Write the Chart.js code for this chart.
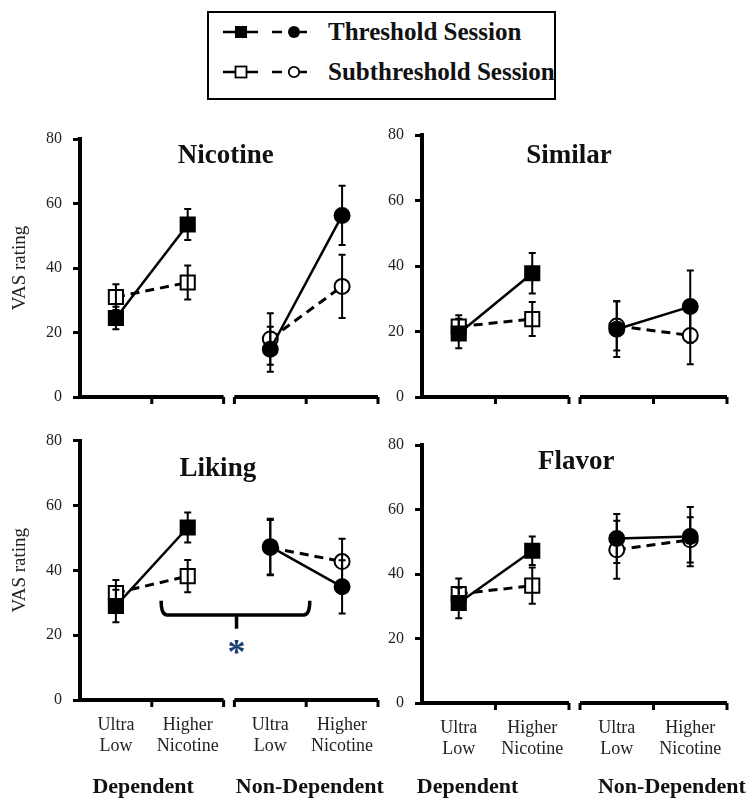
<!DOCTYPE html>
<html>
<head>
<meta charset="utf-8">
<script src="https://cdn.jsdelivr.net/npm/chart.js@4.4.1/dist/chart.umd.min.js"></script>
<style>
  body { margin: 0; background: #fff; }
  #wrap { position: relative; width: 752px; height: 812px; overflow: hidden; font-family: 'Liberation Serif', 'Times New Roman', serif; }
  canvas { position: absolute; }
  #legend { position: absolute; left: 207px; top: 11px; width: 345px; height: 85px; border: 2px solid #000; }
  .row { position: absolute; left: 14px; height: 30px; display: flex; align-items: center; }
  .row span { font-weight: bold; font-size: 25px; margin-left: 21px; color: #111; white-space: nowrap; }
</style>
</head>
<body>
<div id="wrap">
  <div id="legend">
    <div class="row" style="top:4px">
      <svg width="84" height="30">
        <line x1="0" y1="15" x2="35" y2="15" stroke="#000" stroke-width="2.5"/>
        <rect x="12" y="9" width="12" height="12" fill="#000"/>
        <line x1="49" y1="15" x2="59" y2="15" stroke="#000" stroke-width="2.5"/>
        <circle cx="71" cy="15" r="6" fill="#000"/>
        <line x1="77" y1="15" x2="84" y2="15" stroke="#000" stroke-width="2.5"/>
      </svg>
      <span id="lg0"></span>
    </div>
    <div class="row" style="top:44px">
      <svg width="84" height="30">
        <line x1="0" y1="15" x2="35" y2="15" stroke="#000" stroke-width="2.5"/>
        <rect x="12.5" y="9.5" width="11" height="11" fill="#fff" stroke="#000" stroke-width="1.8"/>
        <line x1="49" y1="15" x2="59" y2="15" stroke="#000" stroke-width="2.5"/>
        <circle cx="71" cy="15" r="5.2" fill="#fff" stroke="#000" stroke-width="1.8"/>
        <line x1="77" y1="15" x2="84" y2="15" stroke="#000" stroke-width="2.5"/>
      </svg>
      <span id="lg1"></span>
    </div>
  </div>
  <canvas id="cNicotine" width="390" height="310" style="left:0;top:110px"></canvas>
  <canvas id="cSimilar" width="374" height="310" style="left:378px;top:110px"></canvas>
  <canvas id="cLiking" width="390" height="392" style="left:0;top:420px"></canvas>
  <canvas id="cFlavor" width="374" height="392" style="left:378px;top:420px"></canvas>
</div>
<script>
// Data (VAS rating, mean and error)
const seriesNames = ['Threshold Session', 'Subthreshold Session'];
const xPos        = [0.5, 1.5, 2.65, 3.65];   // Dep UL, Dep HN, Non-Dep UL, Non-Dep HN
const catLabels   = [['Ultra', 'Low'], ['Higher', 'Nicotine'], ['Ultra', 'Low'], ['Higher', 'Nicotine']];
const groupLabels = ['Dependent', 'Non-Dependent'];
const yTicks      = [0, 20, 40, 60, 80];

const nicotineThr    = [24.5, 53.5, 14.8, 56.3];
const nicotineThrErr = [3.5, 4.8, 7.0, 9.2];
const nicotineSub    = [31.0, 35.5, 18.0, 34.3];
const nicotineSubErr = [4.0, 5.3, 8.0, 9.8];

const similarThr     = [19.4, 37.8, 20.7, 27.6];
const similarThrErr  = [4.5, 6.2, 8.5, 11.0];
const similarSub     = [21.5, 23.8, 21.7, 18.8];
const similarSubErr  = [3.5, 5.2, 7.5, 8.8];

const likingThr      = [29.0, 53.2, 47.3, 34.9];
const likingThrErr   = [5.0, 4.6, 8.6, 8.2];
const likingSub      = [33.0, 38.2, 47.0, 42.7];
const likingSubErr   = [4.0, 5.0, 8.5, 7.0];

const flavorThr      = [31.0, 47.2, 51.0, 51.6];
const flavorThrErr   = [4.7, 4.4, 7.6, 9.2];
const flavorSub      = [33.8, 36.4, 47.5, 50.6];
const flavorSubErr   = [4.8, 5.6, 9.0, 7.0];

const SERIF = "'Liberation Serif', 'Times New Roman', serif";
const X_SEGMENTS = [[0, 2], [2.15, 4.15]];   // broken x axis
const X_MID      = [1, 3.15];

document.getElementById('lg0').textContent = seriesNames[0];
document.getElementById('lg1').textContent = seriesNames[1];

/**
 * Builds the four line datasets of one panel:
 * threshold (solid, filled marks) and subthreshold (dashed, open marks),
 * squares for Dependent, circles for Non-Dependent.
 */
function buildDatasets(thr, thrErr, sub, subErr) {
  const dep = [0, 1];
  const non = [2, 3];
  const pick = (arr, idx) => idx.map(i => ({ x: xPos[i], y: arr[i] }));
  const base = { borderColor: '#000', pointBorderColor: '#000', pointBorderWidth: 2, fill: false, tension: 0 };
  const solid  = { ...base, borderWidth: 2.5 };
  const dashed = { ...base, borderWidth: 3, borderDash: [9, 6] };
  return [
    { ...solid,  label: seriesNames[0], data: pick(thr, dep), errors: dep.map(i => thrErr[i]), pointStyle: 'rect',   pointRadius: 10,  pointBackgroundColor: '#000' },
    { ...solid,  label: seriesNames[0], data: pick(thr, non), errors: non.map(i => thrErr[i]), pointStyle: 'circle', pointRadius: 7.5, pointBackgroundColor: '#000' },
    { ...dashed, label: seriesNames[1], data: pick(sub, dep), errors: dep.map(i => subErr[i]), pointStyle: 'rect',   pointRadius: 10,  pointBackgroundColor: '#fff' },
    { ...dashed, label: seriesNames[1], data: pick(sub, non), errors: non.map(i => subErr[i]), pointStyle: 'circle', pointRadius: 7.5, pointBackgroundColor: '#fff' },
  ];
}

// Error bars, broken x axis, panel title, group labels and the bracket
const panelDecor = {
  id: 'panelDecor',
  afterDatasetsDraw(chart) {
    const { ctx, scales: { x, y } } = chart;
    ctx.save();
    ctx.strokeStyle = '#000';
    ctx.lineWidth = 2;
    chart.data.datasets.forEach(ds => {
      ds.data.forEach((p, i) => {
        const px = x.getPixelForValue(p.x);
        const top = y.getPixelForValue(p.y + ds.errors[i]);
        const bot = y.getPixelForValue(p.y - ds.errors[i]);
        ctx.beginPath();
        ctx.moveTo(px, top); ctx.lineTo(px, bot);
        ctx.moveTo(px - 3.5, top); ctx.lineTo(px + 3.5, top);
        ctx.moveTo(px - 3.5, bot); ctx.lineTo(px + 3.5, bot);
        ctx.stroke();
      });
    });
    ctx.restore();
  },
  afterDraw(chart, args, opts) {
    const { ctx, chartArea, scales: { x, y } } = chart;
    const yb = chartArea.bottom;
    ctx.save();
    ctx.strokeStyle = '#000';
    ctx.fillStyle = '#000';

    // broken x axis
    ctx.lineWidth = 4;
    X_SEGMENTS.forEach(([a, b], k) => {
      ctx.beginPath();
      ctx.moveTo(x.getPixelForValue(a) - (k === 0 ? 2 : 0), yb);
      ctx.lineTo(x.getPixelForValue(b), yb);
      ctx.stroke();
    });
    ctx.lineWidth = 3;
    const tickVals = [X_SEGMENTS[0][1], X_SEGMENTS[1][0], X_SEGMENTS[1][1], ...X_MID];
    tickVals.forEach(v => {
      const px = x.getPixelForValue(v);
      ctx.beginPath();
      ctx.moveTo(px, yb);
      ctx.lineTo(px, yb + 7);
      ctx.stroke();
    });

    // panel title
    ctx.font = `bold 27px ${SERIF}`;
    ctx.textAlign = 'center';
    ctx.textBaseline = 'alphabetic';
    ctx.fillStyle = '#111';
    ctx.fillText(opts.title, x.getPixelForValue(opts.titleX), chartArea.top + opts.titleDy);

    // group labels under the bottom panels
    if (opts.groupX) {
      ctx.font = `bold 22px ${SERIF}`;
      groupLabels.forEach((g, i) => {
        ctx.fillText(g, x.getPixelForValue(opts.groupX[i]), chart.height - 19);
      });
    }

    // significance bracket
    if (opts.bracket) {
      const b = opts.bracket;
      const x1 = x.getPixelForValue(b.x1), x2 = x.getPixelForValue(b.x2), xm = x.getPixelForValue(b.xm);
      const yl = y.getPixelForValue(b.y), ya = y.getPixelForValue(b.yArm), yt = y.getPixelForValue(b.yTip);
      ctx.lineWidth = 3.5;
      ctx.lineJoin = 'round';
      ctx.beginPath();
      ctx.moveTo(x1, ya);
      ctx.quadraticCurveTo(x1, yl, x1 + 6, yl);
      ctx.lineTo(x2 - 6, yl);
      ctx.quadraticCurveTo(x2, yl, x2, ya);
      ctx.moveTo(xm, yl);
      ctx.lineTo(xm, yt);
      ctx.stroke();
      ctx.font = `bold 36px ${SERIF}`;
      ctx.fillStyle = '#1c3f73';
      ctx.fillText('*', xm, y.getPixelForValue(b.starY) + 17);
    }
    ctx.restore();
  }
};

function makePanel(id, cfg) {
  new Chart(document.getElementById(id), {
    type: 'line',
    data: { datasets: buildDatasets(cfg.thr, cfg.thrErr, cfg.sub, cfg.subErr) },
    plugins: [panelDecor],
    options: {
      responsive: false,
      animation: false,
      devicePixelRatio: 1,
      layout: { padding: { left: 0, right: cfg.padRight, top: cfg.padTop, bottom: 0 } },
      plugins: {
        legend: { display: false },
        tooltip: { enabled: false },
        panelDecor: { title: cfg.title, titleX: cfg.titleX, titleDy: cfg.titleDy, groupX: cfg.groupX, bracket: cfg.bracket },
      },
      scales: {
        x: {
          type: 'linear',
          min: 0,
          max: 4.15,
          afterBuildTicks: s => { s.ticks = xPos.map(v => ({ value: v })); },
          afterFit: s => { s.height = cfg.xHeight; },
          ticks: {
            display: cfg.showX,
            autoSkip: false,
            maxRotation: 0,
            padding: 15,
            color: '#222',
            font: { family: SERIF, size: 18, lineHeight: 1.17 },
            callback: (v, i) => catLabels[i],
          },
          grid: { display: false, drawTicks: false },
          border: { display: false },
        },
        y: {
          min: 0,
          max: 80,
          afterBuildTicks: s => { s.ticks = yTicks.map(v => ({ value: v })); },
          afterFit: s => { s.width = cfg.yWidth; },
          ticks: { padding: 11, color: '#222', font: { family: SERIF, size: 16 } },
          grid: { drawOnChartArea: false, drawTicks: true, tickLength: 7, tickWidth: 3, tickColor: '#000' },
          border: { display: true, width: 4, color: '#000' },
          title: {
            display: cfg.yTitle,
            text: 'VAS rating',
            color: '#222',
            font: { family: SERIF, size: 19 },
            padding: { top: 9, bottom: 0 },
          },
        },
      },
    },
  });
}

makePanel('cNicotine', {
  thr: nicotineThr, thrErr: nicotineThrErr, sub: nicotineSub, subErr: nicotineSubErr,
  title: 'Nicotine', titleX: 2.03, titleDy: 24,
  yTitle: true, yWidth: 80, padTop: 29, padRight: 5, xHeight: 23, showX: false,
});
makePanel('cSimilar', {
  thr: similarThr, thrErr: similarThrErr, sub: similarSub, subErr: similarSubErr,
  title: 'Similar', titleX: 2.0, titleDy: 28,
  yTitle: false, yWidth: 44, padTop: 25, padRight: 25, xHeight: 23, showX: false,
});
makePanel('cLiking', {
  thr: likingThr, thrErr: likingThrErr, sub: likingSub, subErr: likingSubErr,
  title: 'Liking', titleX: 1.92, titleDy: 35,
  yTitle: true, yWidth: 80, padTop: 18, padRight: 5, xHeight: 112, showX: true,
  groupX: [0.88, 3.2],
  bracket: { x1: 1.13, x2: 3.2, xm: 2.18, y: 26.2, yArm: 30.6, yTip: 22, starY: 16.2 },
});
makePanel('cFlavor', {
  thr: flavorThr, thrErr: flavorThrErr, sub: flavorSub, subErr: flavorSubErr,
  title: 'Flavor', titleX: 2.1, titleDy: 24,
  yTitle: false, yWidth: 44, padTop: 25, padRight: 25, xHeight: 109, showX: true,
  groupX: [0.62, 3.4],
});
</script>
</body>
</html>
